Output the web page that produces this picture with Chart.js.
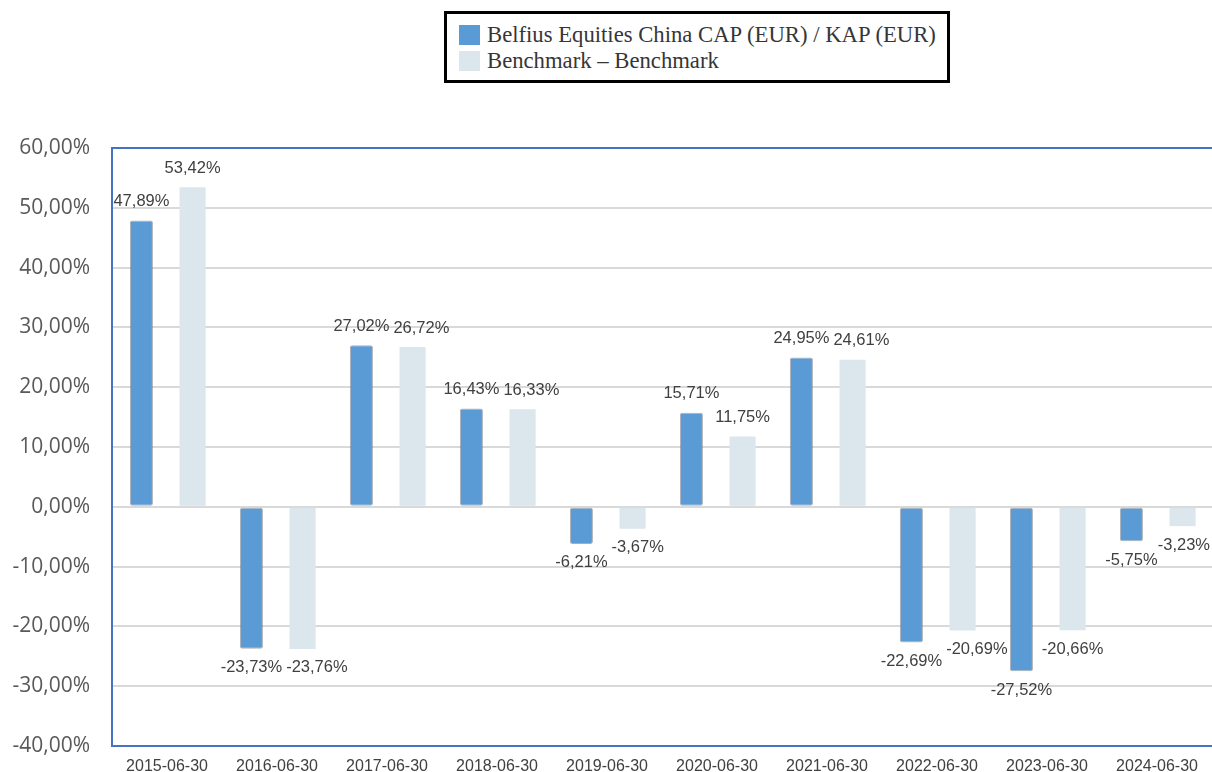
<!DOCTYPE html>
<html>
<head>
<meta charset="utf-8">
<script src="https://cdn.jsdelivr.net/npm/chart.js@4/dist/chart.umd.min.js"></script>
<style>
  html, body { margin: 0; padding: 0; background: #fff; overflow: hidden; }
  #wrap { position: relative; width: 1212px; height: 772px; overflow: hidden; }
  #chart { display: block; }
  #legend {
    position: absolute; left: 444px; top: 11px; width: 500px; height: 66px;
    border: 3px solid #000; background: #fff;
    font-family: "Liberation Serif", "Times New Roman", serif; font-size: 22.7px; color: #363636;
  }
  #legend .row { position: absolute; left: 12px; height: 26px; line-height: 26px; white-space: nowrap; }
  #legend .sw { display: inline-block; width: 21px; height: 20px; vertical-align: -3px; margin-right: 7px; }
</style>
</head>
<body>
<div id="wrap">
  <canvas id="chart" width="1212" height="772"></canvas>
  <div id="legend"></div>
</div>
<script>
var dates = ['2015-06-30', '2016-06-30', '2017-06-30', '2018-06-30', '2019-06-30',
             '2020-06-30', '2021-06-30', '2022-06-30', '2023-06-30', '2024-06-30'];
var fundValues = [47.89, -23.73, 27.02, 16.43, -6.21, 15.71, 24.95, -22.69, -27.52, -5.75];
var benchValues = [53.42, -23.76, 26.72, 16.33, -3.67, 11.75, 24.61, -20.69, -20.66, -3.23];
var fundName = 'Belfius Equities China CAP (EUR) / KAP (EUR)';
var benchName = 'Benchmark \u2013 Benchmark';

function pct(v) {
    return v.toFixed(2).replace('.', ',') + '%';
}

var frame = {
    id: 'frame',
    afterDraw: function (chart) {
        var a = chart.chartArea, ctx = chart.ctx;
        ctx.save();
        ctx.strokeStyle = '#4472c4';
        ctx.lineWidth = 2;
        ctx.beginPath();
        ctx.moveTo(a.left, a.top);
        ctx.lineTo(a.right + 2, a.top);
        ctx.stroke();
        ctx.restore();
    }
};

// value labels above / below each bar; the benchmark label is pushed right when it would hit the fund label
var valueLabels = {
    id: 'valueLabels',
    afterDatasetsDraw: function (chart) {
        var ctx = chart.ctx;
        ctx.save();
        ctx.font = '16.5px "Liberation Sans", Arial, sans-serif';
        ctx.fillStyle = '#404040';
        ctx.textAlign = 'center';
        ctx.textBaseline = 'middle';
        var fundMeta = chart.getDatasetMeta(0).data;
        var benchMeta = chart.getDatasetMeta(1).data;
        for (let j = 0; j < fundValues.length; j++) {
            let f = fundValues[j], b = benchValues[j];
            let fx = fundMeta[j].x, fy = f >= 0 ? fundMeta[j].y - 19 : fundMeta[j].y + 19;
            let bx = benchMeta[j].x, by = b >= 0 ? benchMeta[j].y - 19 : benchMeta[j].y + 19;
            let fw = ctx.measureText(pct(f)).width, bw = ctx.measureText(pct(b)).width;
            if (Math.abs(fy - by) < 16) {
                let overlap = (fx + fw / 2) - (bx - bw / 2) + 4;
                if (overlap > 0) bx += overlap;
            }
            // keep the last labels inside the picture
            bx = Math.min(bx, chart.width - bw / 2 - 2);
            fx = Math.min(fx, chart.width - fw / 2 - 2);
            ctx.fillText(pct(f), fx, fy);
            ctx.fillText(pct(b), bx, by);
        }
        ctx.restore();
    }
};

var chart = new Chart(document.getElementById('chart'), {
    type: 'bar',
    data: {
        labels: dates,
        datasets: [{
            label: fundName,
            data: fundValues,
            backgroundColor: '#5b9bd5',
            borderColor: 'rgba(100,110,120,0.55)',
            borderWidth: 1,
            borderRadius: 2,
            borderSkipped: false,
            barPercentage: 0.45
        }, {
            label: benchName,
            data: benchValues,
            backgroundColor: '#dce6ed',
            borderWidth: 0,
            barPercentage: 0.51
        }]
    },
    options: {
        responsive: false,
        animation: false,
        layout: { padding: { top: 148, left: 0, right: 0, bottom: 0 } },
        plugins: {
            legend: { display: false },
            tooltip: { enabled: false }
        },
        datasets: { bar: { categoryPercentage: 0.93 } },
        scales: {
            x: {
                grid: { display: false, drawTicks: false },
                border: { display: true, color: '#4472c4', width: 2 },
                ticks: {
                    color: '#404040',
                    padding: 11,
                    maxRotation: 0,
                    font: { family: '"Liberation Sans", Arial, sans-serif', size: 16 }
                },
                afterFit: function (scale) { scale.height = 26; }
            },
            y: {
                min: -40,
                max: 60,
                grid: { color: '#d9d9d9', lineWidth: 2, drawTicks: false },
                border: { display: true, color: '#4472c4', width: 2 },
                ticks: {
                    stepSize: 10,
                    color: '#595959',
                    padding: 22,
                    font: { family: '"Open Sans", sans-serif', size: 21 },
                    callback: function (v) { return pct(v); }
                },
                afterFit: function (scale) {
                    scale.width = 112;
                    scale.paddingTop = 0;
                    scale.paddingBottom = 0;
                }
            }
        }
    },
    plugins: [frame, valueLabels]
});

var legend = document.getElementById('legend');
chart.data.datasets.forEach(function (ds, i) {
    var row = document.createElement('div');
    row.className = 'row';
    row.style.top = (8 + i * 26) + 'px';
    var sw = document.createElement('span');
    sw.className = 'sw';
    sw.style.background = ds.backgroundColor;
    row.appendChild(sw);
    row.appendChild(document.createTextNode(ds.label));
    legend.appendChild(row);
});
</script>
</body>
</html>
